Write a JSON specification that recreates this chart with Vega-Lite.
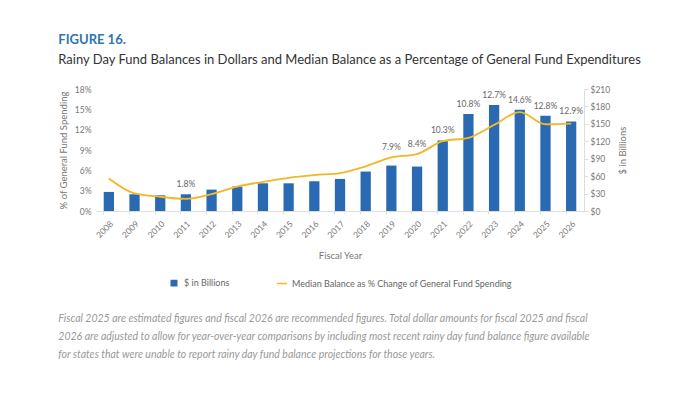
{
  "$schema": "https://vega.github.io/schema/vega-lite/v6.json",
  "background": "white",
  "padding": {"left": 58, "top": 34, "right": 20, "bottom": 10},
  "title": {
    "text": "FIGURE 16.",
    "subtitle": "Rainy Day Fund Balances in Dollars and Median Balance as a Percentage of General Fund Expenditures",
    "anchor": "start",
    "font": "Lato",
    "fontSize": 13,
    "fontWeight": "bold",
    "color": "#2E74B5",
    "subtitleFont": "Lato",
    "subtitleFontSize": 13,
    "subtitleColor": "#333333",
    "subtitlePadding": 7,
    "offset": 18
  },
  "config": {
    "font": "Lato",
    "view": {"stroke": null},
    "axis": {
      "grid": false,
      "labelColor": "#777777",
      "titleColor": "#777777",
      "labelFontSize": 8.5,
      "titleFontSize": 9.5,
      "titleFontWeight": "normal",
      "domainColor": "#dddddd",
      "tickColor": "#dddddd"
    },
    "legend": {"layout": {"bottom": {"anchor": "middle"}}}
  },
  "resolve": {"legend": {"color": "independent"}},
  "vconcat": [
    {
      "width": 488,
      "height": 122,
      "title": {
        "text": [
          "Fiscal 2025 are estimated figures and fiscal 2026 are recommended figures. Total dollar amounts for fiscal 2025 and fiscal",
          "2026 are adjusted to allow for year-over-year comparisons by including most recent rainy day fund balance figure available",
          "for states that were unable to report rainy day fund balance projections for those years."
        ],
        "orient": "bottom",
        "anchor": "start",
        "font": "Lato",
        "fontStyle": "italic",
        "fontWeight": "normal",
        "fontSize": 10.5,
        "color": "#999999",
        "lineHeight": 18,
        "offset": 25
      },
      "data": {
        "values": [
          {"year": "2008", "billions": 32.8, "pct": 4.8, "label": null},
          {"year": "2009", "billions": 28.8, "pct": 2.6, "label": null},
          {"year": "2010", "billions": 27.0, "pct": 2.1, "label": null},
          {"year": "2011", "billions": 28.8, "pct": 1.8, "label": "1.8%"},
          {"year": "2012", "billions": 36.8, "pct": 2.5, "label": null},
          {"year": "2013", "billions": 42.0, "pct": 3.6, "label": null},
          {"year": "2014", "billions": 47.7, "pct": 4.3, "label": null},
          {"year": "2015", "billions": 47.7, "pct": 4.9, "label": null},
          {"year": "2016", "billions": 51.2, "pct": 5.3, "label": null},
          {"year": "2017", "billions": 55.2, "pct": 5.6, "label": null},
          {"year": "2018", "billions": 67.9, "pct": 6.6, "label": null},
          {"year": "2019", "billions": 78.2, "pct": 7.9, "label": "7.9%"},
          {"year": "2020", "billions": 76.5, "pct": 8.4, "label": "8.4%"},
          {"year": "2021", "billions": 121.4, "pct": 10.3, "label": "10.3%"},
          {"year": "2022", "billions": 166.8, "pct": 10.8, "label": "10.8%"},
          {"year": "2023", "billions": 182.3, "pct": 12.7, "label": "12.7%"},
          {"year": "2024", "billions": 174.3, "pct": 14.6, "label": "14.6%"},
          {"year": "2025", "billions": 163.9, "pct": 12.8, "label": "12.8%"},
          {"year": "2026", "billions": 154.2, "pct": 12.9, "label": "12.9%"}
        ]
      },
      "encoding": {
        "x": {
          "field": "year",
          "type": "ordinal",
          "title": "Fiscal Year",
          "scale": {"paddingInner": 0.6, "paddingOuter": 0.3},
          "axis": {
            "labelAngle": -45,
            "bandPosition": 0,
            "tickSize": 3,
            "labelPadding": 5,
            "titlePadding": 12
          }
        }
      },
      "layer": [
        {
          "mark": {"type": "bar"},
          "encoding": {
            "y": {
              "field": "billions",
              "type": "quantitative",
              "title": "$ in Billions",
              "scale": {"domain": [0, 210]},
              "axis": {
                "orient": "right",
                "values": [0, 30, 60, 90, 120, 150, 180, 210],
                "labelExpr": "'$' + datum.value",
                "titleAngle": 270,
                "titleBaseline": "top",
                "tickSize": 4,
                "titlePadding": 8
              }
            },
            "color": {
              "datum": "$ in Billions",
              "type": "nominal",
              "scale": {
                "domain": ["$ in Billions", "Median Balance as % Change of General Fund Spending"],
                "range": ["#2A6AB2", "#F2B824"]
              },
              "legend": {
                "orient": "bottom",
                "direction": "horizontal",
                "title": null,
                "labelFontSize": 9,
                "labelColor": "#666666",
                "labelLimit": 400,
                "columnPadding": 44,
                "offset": 16,
                "encode": {
                  "symbols": {
                    "update": {
                      "shape": {"signal": "datum.value == '$ in Billions' ? 'square' : 'stroke'"},
                      "size": {"signal": "datum.value == '$ in Billions' ? 30 : 100"},
                      "fill": {"signal": "datum.value == '$ in Billions' ? '#2A6AB2' : 'transparent'"},
                      "stroke": {"signal": "datum.value == '$ in Billions' ? 'transparent' : '#F2B824'"},
                      "strokeWidth": {"value": 1.5}
                    }
                  }
                }
              }
            }
          }
        },
        {
          "mark": {"type": "line", "interpolate": "monotone", "strokeWidth": 1.8},
          "encoding": {
            "y": {
              "field": "pct",
              "type": "quantitative",
              "title": "% of General Fund Spending",
              "scale": {"domain": [0, 18]},
              "axis": {
                "orient": "left",
                "values": [0, 3, 6, 9, 12, 15, 18],
                "labelExpr": "datum.value + '%'",
                "domain": false,
                "ticks": false,
                "labelPadding": 5,
                "titlePadding": 6
              }
            },
            "color": {"datum": "Median Balance as % Change of General Fund Spending", "type": "nominal"}
          }
        },
        {
          "transform": [
            {"filter": "datum.label != null"},
            {"calculate": "max(datum.billions, datum.pct * 210 / 18)", "as": "labelTop"}
          ],
          "mark": {"type": "text", "dy": -10, "fontSize": 8.5, "color": "#666666"},
          "encoding": {
            "y": {
              "field": "labelTop",
              "type": "quantitative",
              "scale": {"domain": [0, 210]},
              "axis": null
            },
            "text": {"field": "label"}
          }
        }
      ],
      "resolve": {"scale": {"y": "independent"}}
    }
  ]
}
